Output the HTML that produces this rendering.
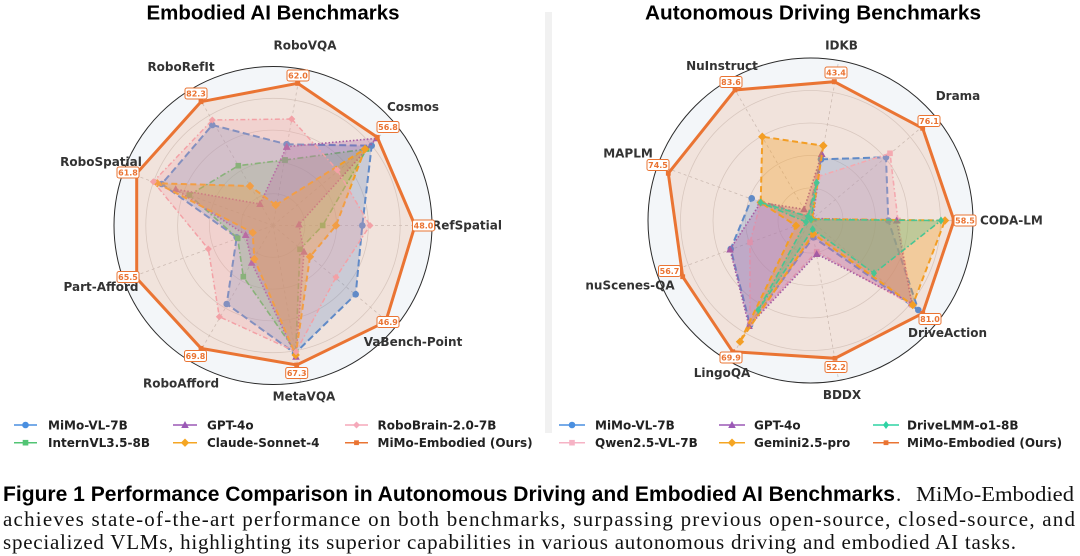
<!DOCTYPE html>
<html>
<head>
<meta charset="utf-8">
<style>
html,body{margin:0;padding:0;background:#fff;}
svg{display:block;}
.ax{font-family:"DejaVu Sans","Liberation Sans",sans-serif;font-weight:bold;font-size:12px;fill:#333;}
.lg{font-family:"DejaVu Sans","Liberation Sans",sans-serif;font-weight:bold;font-size:12px;fill:#222;}
.vl{font-family:"DejaVu Sans","Liberation Sans",sans-serif;font-weight:bold;font-size:8px;fill:#ea7433;text-anchor:middle;}
.vb{fill:#fff;stroke:#ea7433;stroke-width:1;}
.ttl{font-family:"Liberation Sans",sans-serif;font-weight:bold;font-size:20.5px;fill:#000;}
</style>
</head>
<body>
<svg width="1080" height="556" viewBox="0 0 1080 556" xmlns="http://www.w3.org/2000/svg">
<defs>
<marker id="mb" markerUnits="userSpaceOnUse" markerWidth="10" markerHeight="10" refX="5" refY="5" overflow="visible"><circle cx="5" cy="5" r="3.3" fill="#4a8fe0"/></marker>
<marker id="mg" markerUnits="userSpaceOnUse" markerWidth="10" markerHeight="10" refX="5" refY="5" overflow="visible"><rect x="2.2" y="2.2" width="5.6" height="5.6" fill="#52c474"/></marker>
<marker id="mp" markerUnits="userSpaceOnUse" markerWidth="10" markerHeight="10" refX="5" refY="5" overflow="visible"><polygon points="5,1 8.8,8 1.2,8" fill="#9b59b6"/></marker>
<marker id="my" markerUnits="userSpaceOnUse" markerWidth="10" markerHeight="10" refX="5" refY="5" overflow="visible"><polygon points="5,0.8 9.2,5 5,9.2 0.8,5" fill="#f5a623"/></marker>
<marker id="mk" markerUnits="userSpaceOnUse" markerWidth="10" markerHeight="10" refX="5" refY="5" overflow="visible"><polygon points="5,1.5 8.5,5 5,8.5 1.5,5" fill="#f5a9ba"/></marker>
<marker id="mo" markerUnits="userSpaceOnUse" markerWidth="10" markerHeight="10" refX="5" refY="5" overflow="visible"><rect x="2.6" y="2.6" width="4.8" height="4.8" fill="#ea7433"/></marker>
<marker id="mt" markerUnits="userSpaceOnUse" markerWidth="10" markerHeight="10" refX="5" refY="5" overflow="visible"><polygon points="5,1 8,5 5,9 2,5" fill="#2ed3a4"/></marker>
<marker id="mq" markerUnits="userSpaceOnUse" markerWidth="10" markerHeight="10" refX="5" refY="5" overflow="visible"><rect x="2.2" y="2.2" width="5.6" height="5.6" fill="#f6b3c5"/></marker>
</defs>

<rect x="545" y="12" width="7" height="421" fill="#f1f1f1"/>

<text class="ttl" x="273" y="19.5" text-anchor="middle" textLength="253" lengthAdjust="spacingAndGlyphs">Embodied AI Benchmarks</text>
<text class="ttl" x="813" y="19.5" text-anchor="middle" textLength="336" lengthAdjust="spacingAndGlyphs">Autonomous Driving Benchmarks</text>

<!-- ============ LEFT CHART ============ -->
<circle cx="273" cy="225.5" r="159" fill="#f3f6f9"/>
<g fill="none" stroke="#d6d6d6" stroke-width="0.8">
<circle cx="273" cy="225.5" r="31.8"/>
<circle cx="273" cy="225.5" r="63.6"/>
<circle cx="273" cy="225.5" r="95.4"/>
<circle cx="273" cy="225.5" r="127.2"/>
</g>
<g stroke="#c8c8c8" stroke-width="0.8" stroke-dasharray="3,3">
<line x1="273" y1="225.5" x2="300.6" y2="68.9"/>
<line x1="273" y1="225.5" x2="394.8" y2="123.3"/>
<line x1="273" y1="225.5" x2="432" y2="225.5"/>
<line x1="273" y1="225.5" x2="394.8" y2="327.7"/>
<line x1="273" y1="225.5" x2="300.6" y2="382.1"/>
<line x1="273" y1="225.5" x2="193.5" y2="363.2"/>
<line x1="273" y1="225.5" x2="123.6" y2="279.9"/>
<line x1="273" y1="225.5" x2="123.6" y2="171.1"/>
<line x1="273" y1="225.5" x2="193.5" y2="87.8"/>
</g>

<polygon points="286.7,144.3 371.7,145.7 362.3,225.5 355.7,294.3 295,353.3 226.7,304 236.7,237.3 161.7,184 212.3,125" fill="#4a8fe0" fill-opacity="0.27" stroke="#4a8fe0" stroke-width="2" stroke-dasharray="7,3.5" marker-start="url(#mb)" marker-mid="url(#mb)" marker-end="url(#mb)"/>
<polygon points="285,160 366.7,149 322.7,225.5 300,249.3 295.7,351.7 243.3,276.7 237.7,238.3 189.3,195 238.3,165.7" fill="#52c474" fill-opacity="0.25" stroke="#52c474" stroke-width="1.6" stroke-dasharray="6,2.5,1.5,2.5" marker-start="url(#mg)" marker-mid="url(#mg)" marker-end="url(#mg)"/>
<polygon points="286.7,146.7 376.7,138.3 299,224.5 304,251.7 296,356.7 251.7,262.7 245.7,235 175.7,189.3 260,204" fill="#9b59b6" fill-opacity="0.3" stroke="#9b59b6" stroke-width="1.6" stroke-dasharray="1.5,2" marker-start="url(#mp)" marker-mid="url(#mp)" marker-end="url(#mp)"/>
<polygon points="275.7,205 365,149 336,225.5 310,256.7 295.7,355 254.3,259 252.7,232.7 157.3,183.3 250,186" fill="#f5a623" fill-opacity="0.35" stroke="#f5a623" stroke-width="2" stroke-dasharray="6,3.5" marker-start="url(#my)" marker-mid="url(#my)" marker-end="url(#my)"/>
<polygon points="291.7,119 337.3,170 370,225.5 336,277.3 296,351.7 219.3,316.7 208.3,249 153.3,181.7 212.3,120" fill="#f5a9ba" fill-opacity="0.25" stroke="#f5a9ba" stroke-width="1.5" stroke-dasharray="5,2.5,1.5,2.5" marker-start="url(#mk)" marker-mid="url(#mk)" marker-end="url(#mk)"/>
<polygon points="297.7,83.3 377.3,137.3 415,225.5 385.7,321.7 296.7,365 201,348.3 136.7,278.3 136.7,173.3 201,101.7" fill="#ea7433" fill-opacity="0.14" stroke="#ea7433" stroke-width="3" marker-start="url(#mo)" marker-mid="url(#mo)" marker-end="url(#mo)"/>

<circle cx="273" cy="225.5" r="159" fill="none" stroke="#2b2b2b" stroke-width="1"/>

<text class="ax" x="305" y="49.5" text-anchor="middle">RoboVQA</text>
<text class="ax" x="413" y="111" text-anchor="middle">Cosmos</text>
<text class="ax" x="432" y="229.5">RefSpatial</text>
<text class="ax" x="413" y="346" text-anchor="middle">VaBench-Point</text>
<text class="ax" x="304" y="400.5" text-anchor="middle">MetaVQA</text>
<text class="ax" x="181" y="387.5" text-anchor="middle">RoboAfford</text>
<text class="ax" x="101" y="291" text-anchor="middle">Part-Afford</text>
<text class="ax" x="101" y="166" text-anchor="middle">RoboSpatial</text>
<text class="ax" x="181" y="71" text-anchor="middle">RoboRefIt</text>

<rect class="vb" x="287" y="70" width="22" height="11" rx="2"/><text class="vl" x="298" y="78.5">62.0</text>
<rect class="vb" x="377" y="121.5" width="22" height="11" rx="2"/><text class="vl" x="388" y="130">56.8</text>
<rect class="vb" x="412.5" y="220" width="22" height="11" rx="2"/><text class="vl" x="423.5" y="228.5">48.0</text>
<rect class="vb" x="377" y="316.5" width="22" height="11" rx="2"/><text class="vl" x="388" y="325">46.9</text>
<rect class="vb" x="285.7" y="367.5" width="22" height="11" rx="2"/><text class="vl" x="296.7" y="376">67.3</text>
<rect class="vb" x="184.5" y="350.5" width="22" height="11" rx="2"/><text class="vl" x="195.5" y="359">69.8</text>
<rect class="vb" x="117" y="271.5" width="22" height="11" rx="2"/><text class="vl" x="128" y="280">65.5</text>
<rect class="vb" x="117" y="167" width="22" height="11" rx="2"/><text class="vl" x="128" y="175.5">61.8</text>
<rect class="vb" x="185" y="88" width="22" height="11" rx="2"/><text class="vl" x="196" y="96.5">82.3</text>

<!-- ============ RIGHT CHART ============ -->
<circle cx="810.5" cy="220.5" r="162.5" fill="#f3f6f9"/>
<g fill="none" stroke="#d6d6d6" stroke-width="0.8">
<circle cx="810.5" cy="220.5" r="32.5"/>
<circle cx="810.5" cy="220.5" r="65"/>
<circle cx="810.5" cy="220.5" r="97.5"/>
<circle cx="810.5" cy="220.5" r="130"/>
</g>
<g stroke="#c8c8c8" stroke-width="0.8" stroke-dasharray="3,3">
<line x1="810.5" y1="220.5" x2="838.7" y2="60.5"/>
<line x1="810.5" y1="220.5" x2="935" y2="116"/>
<line x1="810.5" y1="220.5" x2="973" y2="220.5"/>
<line x1="810.5" y1="220.5" x2="935" y2="325"/>
<line x1="810.5" y1="220.5" x2="838.7" y2="380.5"/>
<line x1="810.5" y1="220.5" x2="729.25" y2="361.2"/>
<line x1="810.5" y1="220.5" x2="657.8" y2="276.1"/>
<line x1="810.5" y1="220.5" x2="657.8" y2="164.9"/>
<line x1="810.5" y1="220.5" x2="729.25" y2="79.8"/>
</g>

<polygon points="821,159.3 886,157.3 888.3,220.5 918.3,310 813.3,237.3 750,325 730.7,249 751.7,198.3 808,216.5" fill="#4a8fe0" fill-opacity="0.27" stroke="#4a8fe0" stroke-width="2" stroke-dasharray="7,3.5" marker-start="url(#mb)" marker-mid="url(#mb)" marker-end="url(#mb)"/>
<polygon points="817.7,176.7 890,153.3 898,220.5 912,305 816.7,251.7 750,323 750,242.3 760.7,202.5 808,216.5" fill="#f6b3c5" fill-opacity="0.27" stroke="#f6b3c5" stroke-width="1.6" stroke-dasharray="5,2.5,1.5,2.5" marker-start="url(#mq)" marker-mid="url(#mq)" marker-end="url(#mq)"/>
<polygon points="821.7,154 813,218.5 896.7,220.5 911.7,303.3 816.7,254 749,326 730,249.5 760.7,202.5 804,209.3" fill="#9b59b6" fill-opacity="0.3" stroke="#9b59b6" stroke-width="1.6" stroke-dasharray="1.5,2" marker-start="url(#mp)" marker-mid="url(#mp)" marker-end="url(#mp)"/>
<polygon points="823.3,145.7 812,219 945,220.5 912.7,305 813.3,234 740,341.7 796,225.7 760.7,202.5 762.3,136.7" fill="#f5a623" fill-opacity="0.35" stroke="#f5a623" stroke-width="2" stroke-dasharray="6,3.5" marker-start="url(#my)" marker-mid="url(#my)" marker-end="url(#my)"/>
<polygon points="816.7,182.7 811,219.5 941,220.5 874,273.3 812.7,229.3 758.3,310 806,222 760.7,202.5 808,216.5" fill="#2ed3a4" fill-opacity="0.3" stroke="#2ed3a4" stroke-width="1.6" stroke-dasharray="6,2.5,1.5,2.5" marker-start="url(#mt)" marker-mid="url(#mt)" marker-end="url(#mt)"/>
<polygon points="834.3,81.7 922.7,128.3 954,220.5 922.7,313.3 835,358.3 732.7,351.7 682.7,276.7 668.3,173.3 735,90" fill="#ea7433" fill-opacity="0.14" stroke="#ea7433" stroke-width="3" marker-start="url(#mo)" marker-mid="url(#mo)" marker-end="url(#mo)"/>

<circle cx="810.5" cy="220.5" r="162.5" fill="none" stroke="#2b2b2b" stroke-width="1"/>

<text class="ax" x="841.5" y="49.5" text-anchor="middle">IDKB</text>
<text class="ax" x="958" y="100" text-anchor="middle">Drama</text>
<text class="ax" x="980" y="224.5">CODA-LM</text>
<text class="ax" x="947.5" y="337" text-anchor="middle">DriveAction</text>
<text class="ax" x="842" y="399" text-anchor="middle">BDDX</text>
<text class="ax" x="722" y="377" text-anchor="middle">LingoQA</text>
<text class="ax" x="630" y="289.5" text-anchor="middle">nuScenes-QA</text>
<text class="ax" x="628" y="157.5" text-anchor="middle">MAPLM</text>
<text class="ax" x="722" y="70" text-anchor="middle">NuInstruct</text>

<rect class="vb" x="825" y="67" width="22" height="11" rx="2"/><text class="vl" x="836" y="75.5">43.4</text>
<rect class="vb" x="918" y="115.5" width="22" height="11" rx="2"/><text class="vl" x="929" y="124">76.1</text>
<rect class="vb" x="954" y="215" width="22" height="11" rx="2"/><text class="vl" x="965" y="223.5">58.5</text>
<rect class="vb" x="919" y="313.5" width="22" height="11" rx="2"/><text class="vl" x="930" y="322">81.0</text>
<rect class="vb" x="825" y="361.5" width="22" height="11" rx="2"/><text class="vl" x="836" y="370">52.2</text>
<rect class="vb" x="720" y="352" width="22" height="11" rx="2"/><text class="vl" x="731" y="360.5">69.9</text>
<rect class="vb" x="658.5" y="265.5" width="22" height="11" rx="2"/><text class="vl" x="669.5" y="274">56.7</text>
<rect class="vb" x="647" y="159.5" width="22" height="11" rx="2"/><text class="vl" x="658" y="168">74.5</text>
<rect class="vb" x="720" y="76.5" width="22" height="11" rx="2"/><text class="vl" x="731" y="85">83.6</text>

<!-- ============ LEFT LEGEND ============ -->
<g fill="none" stroke-width="1.5">
<polyline points="14,425 25.5,425 37,425" stroke="#4a8fe0" marker-mid="url(#mb)"/>
<polyline points="14,442.7 25.5,442.7 37,442.7" stroke="#52c474" marker-mid="url(#mg)"/>
<polyline points="173,425 185,425 197,425" stroke="#9b59b6" marker-mid="url(#mp)"/>
<polyline points="173,442.7 185,442.7 197,442.7" stroke="#f5a623" marker-mid="url(#my)"/>
<polyline points="345,425 356.5,425 368,425" stroke="#f5a9ba" marker-mid="url(#mk)"/>
<polyline points="345,442.7 356.5,442.7 368,442.7" stroke="#ea7433" marker-mid="url(#mo)"/>
</g>
<text class="lg" x="48" y="429.5">MiMo-VL-7B</text>
<text class="lg" x="48" y="447">InternVL3.5-8B</text>
<text class="lg" x="207" y="429.5">GPT-4o</text>
<text class="lg" x="207" y="447">Claude-Sonnet-4</text>
<text class="lg" x="377.5" y="429.5">RoboBrain-2.0-7B</text>
<text class="lg" x="377.5" y="447">MiMo-Embodied (Ours)</text>

<!-- ============ RIGHT LEGEND ============ -->
<g fill="none" stroke-width="1.5">
<polyline points="559,425 572,425 585,425" stroke="#4a8fe0" marker-mid="url(#mb)"/>
<polyline points="559,442.7 572,442.7 585,442.7" stroke="#f6b3c5" marker-mid="url(#mq)"/>
<polyline points="719,425 732,425 745,425" stroke="#9b59b6" marker-mid="url(#mp)"/>
<polyline points="719,442.7 732,442.7 745,442.7" stroke="#f5a623" marker-mid="url(#my)"/>
<polyline points="873,425 886,425 899,425" stroke="#2ed3a4" marker-mid="url(#mt)"/>
<polyline points="873,442.7 886,442.7 899,442.7" stroke="#ea7433" marker-mid="url(#mo)"/>
</g>
<text class="lg" x="595" y="429.5">MiMo-VL-7B</text>
<text class="lg" x="595" y="447">Qwen2.5-VL-7B</text>
<text class="lg" x="754" y="429.5">GPT-4o</text>
<text class="lg" x="754" y="447">Gemini2.5-pro</text>
<text class="lg" x="907" y="429.5">DriveLMM-o1-8B</text>
<text class="lg" x="907" y="447">MiMo-Embodied (Ours)</text>

<!-- ============ CAPTION ============ -->
<text x="3" y="501" font-family="Liberation Sans, sans-serif" font-weight="bold" font-size="21" fill="#000" textLength="892" lengthAdjust="spacingAndGlyphs">Figure 1  Performance Comparison in Autonomous Driving and Embodied AI Benchmarks</text>
<text x="896" y="501" font-family="Liberation Serif, serif" font-size="21" fill="#111">.</text>
<text x="916" y="501" font-family="Liberation Serif, serif" font-size="21" fill="#111" textLength="158" lengthAdjust="spacingAndGlyphs">MiMo-Embodied</text>
<text x="3" y="526" font-family="Liberation Serif, serif" font-size="21" fill="#111" textLength="1072" lengthAdjust="spacing">achieves state-of-the-art performance on both benchmarks, surpassing previous open-source, closed-source, and</text>
<text x="3" y="549" font-family="Liberation Serif, serif" font-size="21" fill="#111" textLength="1013" lengthAdjust="spacing">specialized VLMs, highlighting its superior capabilities in various autonomous driving and embodied AI tasks.</text>
</svg>
</body>
</html>
